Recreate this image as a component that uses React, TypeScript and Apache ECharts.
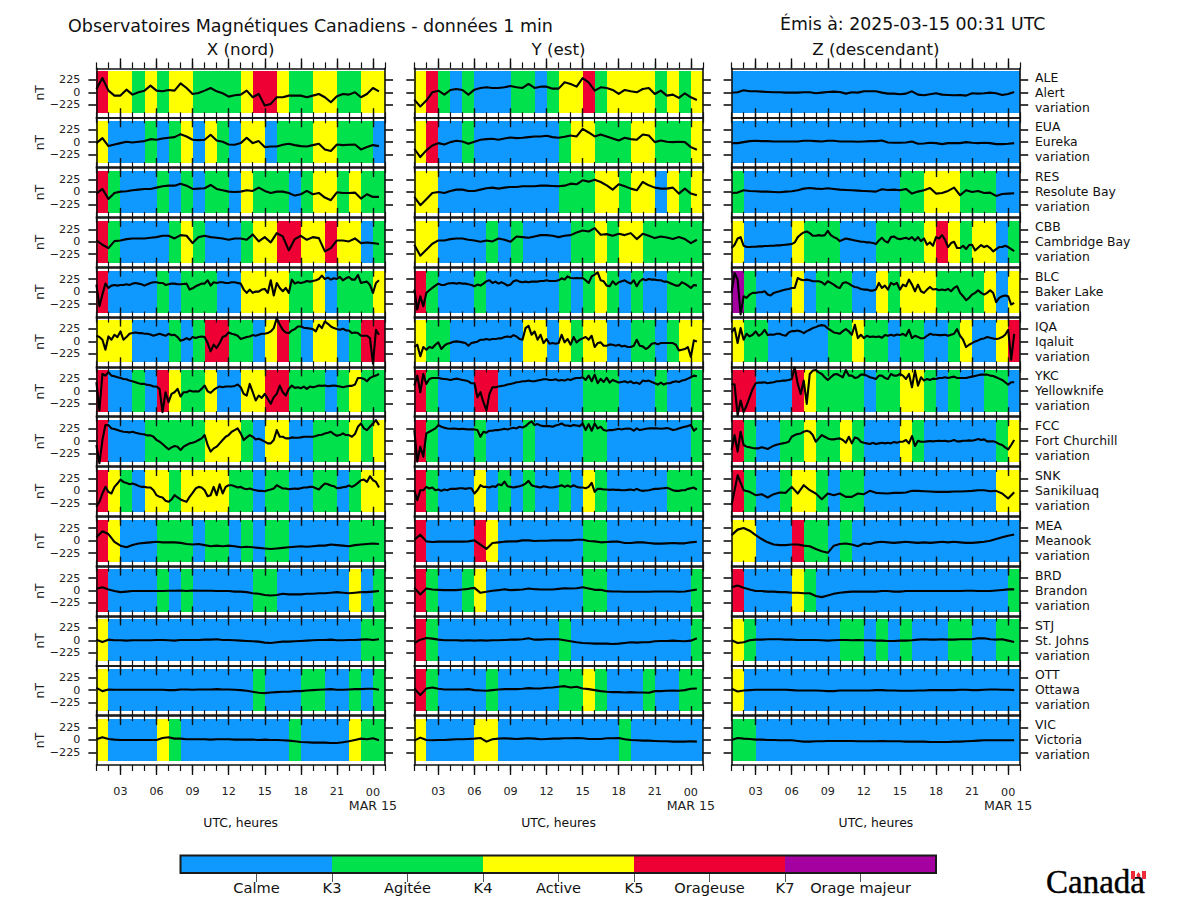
import React, { useEffect, useRef } from "react";
import * as echarts from "echarts";

const FONT = "'DejaVu Sans'";
const STATIONS = [
  ["ALE", "Alert"], ["EUA", "Eureka"], ["RES", "Resolute Bay"], ["CBB", "Cambridge Bay"], ["BLC", "Baker Lake"],
  ["IQA", "Iqaluit"], ["YKC", "Yellowknife"], ["FCC", "Fort Churchill"], ["SNK", "Sanikiluaq"], ["MEA", "Meanook"],
  ["BRD", "Brandon"], ["STJ", "St. Johns"], ["OTT", "Ottawa"], ["VIC", "Victoria"],
];
const COMPONENTS = ["X (nord)", "Y (est)", "Z (descendant)"];
const Y_TICKS = [-225, 0, 225];
const MAJOR_HOURS = [3, 6, 9, 12, 15, 18, 21, 24];
const MINOR_HOURS = [1, 2, 3, 4, 5, 6, 7, 8, 9, 10, 11, 12, 13, 14, 15, 16, 17, 18, 19, 20, 21, 22, 23, 24, 25];
const LEVEL_CODES = "BGYRP";
const LEVEL_COLORS = ["#0f99ff", "#00e14b", "#ffff00", "#ee0034", "#a500a0"];
const LEGEND_LABELS = ["Calme", "K3", "Agitée", "K4", "Active", "K5", "Orageuse", "K7", "Orage majeur"];

// Hourly activity level, first hour = 01:00 UTC
const K_X = [
  "RYYGYGYYGGGGYRRYGGYYGGYY", "YBBBGBGYBYGBYYBGGGYYGGGB", "RGBBBGBGBGGBYGGGBGYYGYGG", "RGBBBBGYGBBBGYYRRYYRYYBG",
  "RBBBBGBGGGBBYYYYGGYBGGGY", "YYYBBBGBGRRGGBYRGBYYBGRR", "RBBGBRYGGYBBYYRRGGGBGYGG", "RBBBGGGGGYYYGBYYBBGGGYGY",
  "RYGBYYGYYYYGGBGGBBGGBGYY", "RYBBBGGGBGGBGBGGBBBBBGGG", "RBBBBGBGBBBBBGGBBBBBBYBG", "YBBBBBBBBBBBBBBBBBBBBBGG",
  "YBBBBBBBBBBBBGBBBGGBBGBG", "YBBBBYGBBBBBBBBBGBBBBYGG",
];
const K_Y = [
  "YRGBGBBBGGBGYYRGYYYYGYGY", "YRBBGBBBBBBBGYYGGGYYGGGY", "YYBBBBBBBBBBGGGYYGYYBYGY", "YYBBBBGBGBBBBGGYGYYGGGGG",
  "RGBBBGBBBBBBGBGYGBGBBGGG", "YGGBBBBBBYYBYGYYBBGGBGYY", "RGBBBRRBBBBBBBGGGBBBGBBG", "RGBBBGBBBGBBBBGGBBBBBBBG",
  "RGBBBYBGBGBBGBYGBBBBBGGG", "RBBBBRYBBBBBBBGGBBBBBBBB", "RGBBGYBBBBBBBBGGBBBBBBBG", "RGBBBBBBBBBBGBBBBBBBBBBG",
  "RGBBBBGBBBBBGGYGBBBGBBGG", "YBBBBYYBBBBBBBBBBGBBBBBB",
];
const K_Z = [
  "BBBBBBBBBBBBBBBBBBBBBBBB", "BBBBBBBBBBBBBBBBBBBBBBBB", "GBBBBBBBBBBBBBGGYYYGGGBB", "YBBBBYGGGBBBGGGGYRYGYYBG",
  "PGBBBYBGGGBBYGYYYGGGGYBY", "YGGBBBBBGGYGGBGGBBGYBBYR", "RRBBBRYGGGGBGGYYGBGBBGGB", "RGBBGGYGGYGBBBYGBBBBBBGY",
  "RGBBGYYGBGGBBBBBBBBBBBYY", "YYBBBRGGBGBBBBBBBBBBBBBB", "RBBBBYGBBBBBBBBBBBBBBBBG", "YGBBBBBBBGGBGBGBBBGGBBGG",
  "YBBBBBBBBBBBBBBBBBBBBBBB", "GGBBBBBBBBBBBBBBBBBBBBBB",
];

// Variation in nT, X component
const X_ALE = [60,258,30,-60,-60,48,-42,0,30,120,30,18,42,30,162,78,-30,-12,30,78,18,-18,-78,-54,-42,30,-90,-30,-240,-210,-90,-90,-60,-60,-60,-90,-60,-30,-90,-180,-72,-30,-42,0,-90,-30,78,18];
const X_EUA = [-18,72,-72,-42,-18,6,-6,6,18,54,42,66,78,90,144,102,42,36,42,132,30,6,-42,-48,-18,78,-18,18,-90,-78,-78,-48,-30,-54,-72,-78,-54,-30,-132,-162,-42,-54,-48,-42,-132,-90,-54,-72];
const X_RES = [-30,54,-126,-18,6,12,30,42,54,54,78,102,114,114,150,114,54,60,66,126,54,30,6,0,6,30,18,78,18,-18,6,6,-18,-66,-42,18,-42,-18,-102,-150,-6,-18,-18,-12,-120,-42,-90,-90];
const X_CBB = [24,-54,-114,12,24,48,60,60,60,72,84,108,108,60,120,108,-24,84,108,84,72,60,36,60,60,36,132,6,84,-12,156,96,-156,48,108,36,84,66,-174,-114,24,24,6,60,-24,-12,-24,-42];
const X_BLC = [126,-264,-54,144,66,108,120,108,120,120,132,120,144,156,144,132,108,132,156,168,168,156,156,120,132,144,144,132,132,138,144,36,60,96,120,144,144,204,108,168,156,168,168,156,156,168,168,156,144,36,-24,36,-24,0,0,36,48,-24,204,-72,156,66,6,66,-24,216,144,168,156,168,192,180,192,204,228,288,228,252,216,240,228,264,204,240,264,216,216,300,156,168,180,120,-24,156,204];
const X_IQA = [102,78,30,-150,90,30,120,78,180,30,78,138,150,162,150,150,138,138,126,102,120,138,120,102,138,114,120,78,12,30,60,30,78,60,78,90,78,-30,-180,-60,-120,-30,78,102,162,138,126,102,42,60,78,90,114,102,120,138,138,150,180,240,420,300,210,162,150,198,222,270,270,246,240,234,222,180,300,240,360,318,270,240,222,210,228,198,198,150,162,150,102,102,102,60,-402,210,120];
const X_YKC = [162,-348,312,282,342,282,270,252,240,222,216,192,180,162,144,132,132,114,108,84,84,42,-378,-18,-198,-48,-18,42,-96,-18,-18,12,-6,0,-6,42,102,0,-30,24,60,84,72,84,84,84,96,120,72,-48,-78,132,-18,-168,-78,-120,-48,-138,-228,-108,-48,102,-18,-78,42,102,60,72,54,84,42,84,72,84,102,96,102,90,96,102,96,84,72,84,96,96,120,240,240,222,180,240,264,282,312];
const X_FCC = [-72,-402,18,288,288,228,216,198,180,168,162,156,168,150,138,126,120,102,102,78,18,-12,-54,-102,-150,-114,-90,-102,-162,-102,-72,-42,-30,-12,18,48,108,-72,-192,-132,-102,-42,18,78,108,168,198,228,138,18,66,108,78,30,42,18,-12,-42,-42,18,198,78,78,48,48,66,60,60,66,78,78,78,78,90,108,114,138,150,168,126,96,108,138,108,108,78,126,258,318,228,198,258,318,378,288];
const X_SNK = [-288,-198,-48,72,-18,-48,72,132,204,162,144,120,132,114,90,72,72,60,60,12,-78,-108,-120,-180,-198,-156,-78,-120,-156,-180,-198,-108,-36,42,72,60,12,-96,-78,72,-78,120,-48,72,102,102,84,60,72,42,30,42,24,12,0,0,-6,12,24,42,102,72,42,42,30,36,42,36,48,60,60,72,72,48,24,84,132,120,96,84,48,54,66,72,96,72,102,144,192,204,162,264,192,162,60];
const X_MEA = [60,170,120,-20,-90,-120,-80,-50,-40,-30,-20,-30,-30,-30,-40,-60,-70,-60,-80,-100,-90,-100,-90,-100,-120,-110,-120,-130,-140,-150,-140,-130,-120,-110,-100,-110,-100,-90,-90,-70,-80,-90,-100,-80,-70,-60,-50,-60];
const X_BRD = [30,60,20,-10,-30,-20,-10,-10,-10,-10,-10,-10,-5,-5,0,-10,0,-5,-5,-5,-10,-10,-10,-20,-20,-30,-50,-60,-80,-90,-80,-60,-70,-70,-70,-60,-60,-50,-50,-40,-30,-40,-50,-40,-30,-30,-20,-10];
const X_STJ = [12,-30,12,0,0,-6,0,0,0,0,6,6,0,-6,6,6,6,6,12,12,18,6,6,0,-6,-12,-18,-24,-42,-48,-36,-24,-24,-18,-12,-6,0,6,6,12,0,0,6,6,12,18,6,18];
const X_OTT = [42,-18,12,6,6,6,6,6,6,6,6,6,0,0,12,12,6,12,12,12,18,12,12,6,0,-12,-30,-48,-54,-42,-36,-30,-30,-18,-18,-6,0,6,12,18,6,6,12,18,18,24,24,6];
const X_VIC = [12,48,18,6,0,0,0,0,0,0,0,36,48,24,24,12,12,12,12,6,12,12,12,6,6,6,6,0,6,0,0,-6,-12,-24,-36,-42,-48,-48,-48,-54,-54,-42,-24,0,24,12,30,-6];

// Variation in nT, Y component
const Y_ALE = [-132,-258,-150,0,30,-42,42,60,42,-42,48,78,90,78,78,90,114,90,78,150,78,102,102,66,66,180,150,102,258,180,30,90,78,42,-30,42,18,0,60,78,-30,30,-60,-42,-102,-18,-90,-138];
const Y_EUA = [-120,-270,-150,-60,-18,-42,0,24,12,-30,6,42,54,60,42,66,84,72,78,90,102,102,114,90,78,96,120,102,240,174,102,138,102,66,30,78,54,42,138,120,0,30,6,0,6,0,-90,-138];
const Y_RES = [-90,-240,-132,-18,0,-18,18,42,42,18,18,42,66,78,60,78,90,90,102,102,102,114,114,108,102,114,150,138,210,186,222,180,120,42,138,102,60,30,180,120,78,60,60,78,-30,60,-30,-60];
const Y_CBB = [-54,-252,-144,-36,24,24,48,60,60,36,24,0,24,6,60,36,0,96,84,72,96,120,120,108,84,108,120,168,204,186,246,126,138,108,144,120,156,48,144,108,66,96,78,48,84,48,-24,36];
const Y_BLC = [36,-324,-84,-264,-24,24,66,108,144,120,120,144,150,156,144,156,144,144,132,120,96,126,108,144,186,204,156,180,144,168,144,108,126,186,204,180,168,180,168,180,180,180,192,192,204,192,192,192,204,240,216,276,246,240,246,240,246,204,156,276,306,348,204,186,108,96,186,126,168,186,204,168,144,204,96,186,228,204,228,216,216,204,204,180,180,156,132,108,108,168,144,108,66,120,108];
const Y_IQA = [-102,-60,-270,-102,-150,-102,-120,-60,-18,-138,-78,-42,-30,-6,0,-6,-18,-30,-78,-30,-18,-6,30,30,42,30,42,42,54,54,78,90,78,114,90,42,30,240,282,120,180,30,120,-30,42,-42,-30,-42,-30,120,-18,42,-60,78,-18,30,54,78,30,102,-102,-30,-18,-78,-78,-54,-60,-78,-60,-90,-78,-102,-102,-78,30,-78,-90,-138,-102,-42,-30,-54,-30,-30,-30,-30,-30,-60,-162,-150,-138,-102,-282,18,0];
const Y_YKC = [102,282,-18,312,132,222,240,240,240,228,222,216,204,216,228,216,204,192,180,144,144,-108,-18,-198,-348,-48,72,72,84,96,102,120,132,144,162,168,180,180,192,180,180,192,204,216,216,204,204,216,192,204,192,216,204,228,240,240,252,204,282,180,300,144,222,168,240,156,204,180,156,168,180,156,180,144,156,132,192,180,192,168,144,120,156,120,144,144,168,180,168,192,204,228,252,282,270];
const Y_FCC = [198,-372,-102,-282,138,168,198,228,288,258,240,228,222,228,222,216,222,216,210,210,210,198,78,168,150,186,186,198,198,210,222,210,228,240,228,258,246,270,318,354,288,306,282,270,270,270,258,282,294,318,282,282,270,288,282,270,318,198,306,186,318,228,258,198,186,198,198,210,222,210,222,228,222,186,228,198,210,222,228,228,228,228,222,228,234,222,198,210,228,246,258,270,288,186,234];
const Y_SNK = [12,-168,12,12,72,42,60,12,24,0,24,12,36,36,36,48,48,36,48,48,-48,12,102,72,72,60,84,72,120,102,168,84,72,60,72,84,102,132,180,102,84,72,60,84,72,60,60,72,84,102,72,96,72,102,72,60,60,48,72,144,-18,36,36,24,24,18,24,18,18,12,12,18,24,12,36,12,0,6,12,24,36,36,42,48,54,36,12,0,0,12,12,36,48,60,24];
const Y_MEA = [18,108,-12,-24,-18,-18,-18,-18,-18,-12,6,-72,-150,-42,-30,-18,-12,-12,6,6,-6,0,0,6,6,6,6,18,18,-6,-12,-30,-24,-18,-18,-42,-42,-30,-30,-42,-54,-54,-48,-42,-48,-48,-30,-18];
const Y_BRD = [48,-72,36,18,12,6,6,6,18,30,48,-42,-24,-6,6,24,6,12,18,36,24,18,18,18,30,42,36,42,60,36,12,12,-12,-18,-18,-24,-24,-24,-24,-24,-18,-18,-18,-18,-24,-18,0,18];
const Y_STJ = [-48,12,42,30,12,0,0,0,-6,0,-6,0,-6,0,0,6,12,12,18,36,12,12,18,18,18,0,-18,-36,-48,-54,-60,-60,-60,-66,-60,-48,-36,-42,-36,-36,-18,-12,-12,-6,-12,-18,-6,36];
const Y_OTT = [30,-90,30,48,24,12,12,12,12,18,0,-6,-12,0,12,18,18,18,24,36,30,30,42,48,60,72,48,60,30,18,0,-18,-30,-36,-36,-42,-36,-42,-42,-48,-18,-18,-12,-6,-12,0,24,30];
const Y_VIC = [-12,42,0,-6,0,0,6,12,12,18,24,36,-30,12,24,30,24,18,24,30,24,12,18,24,24,30,30,36,30,18,18,18,30,30,36,12,0,-6,-12,-12,-18,-24,-24,-30,-30,-30,-24,-30];

// Variation in nT, Z component
const Z_ALE = [-6,0,36,18,18,12,6,0,0,-6,-6,-6,0,0,-18,-6,6,12,6,-24,0,-6,18,18,18,-6,-24,-24,-36,-24,18,-42,-54,-36,-18,-42,-48,-54,-48,-60,-18,-24,-18,-6,-18,-48,-30,6];
const Z_EUA = [-18,-18,0,18,24,18,18,12,12,12,12,12,24,24,18,12,24,24,12,12,12,6,12,18,18,30,-6,-12,-12,-6,12,-30,-24,-12,-18,-36,-18,-18,-18,0,-12,-18,-12,-18,-36,-36,-30,-18];
const Z_RES = [-18,-12,30,18,12,6,6,0,-6,6,12,30,60,72,60,54,66,54,42,36,30,24,18,12,6,48,36,42,30,54,-30,6,30,72,-30,-18,18,78,-60,30,0,18,-18,-12,-72,-36,-30,-24];
const Z_CBB = [-114,-54,60,84,-72,-96,-96,-90,-90,-84,-84,-78,-78,-72,-72,-66,-66,-60,-54,-48,-42,-12,84,132,168,186,156,108,108,120,108,120,198,120,84,60,12,36,60,48,36,24,12,0,0,-12,-12,-24,-42,24,72,12,-12,84,96,60,48,60,72,48,84,24,84,12,60,-54,-12,-72,84,60,120,36,-96,-24,0,-114,-114,-72,-132,-60,-54,-156,-108,-60,-96,-72,-114,-174,-132,-96,-96,-72,-96,-132,-168];
const Z_BLC = [-24,336,216,-414,-84,-114,-54,-24,-24,-12,-12,6,-54,-72,-24,-6,6,24,36,48,66,66,246,216,204,216,204,186,186,186,168,126,186,156,126,84,66,156,168,144,108,84,72,48,36,36,18,18,36,156,66,108,36,156,126,156,36,126,96,216,126,6,126,6,-24,36,84,36,48,24,36,24,48,6,66,96,-24,-84,-156,-114,-54,-24,24,-24,-54,-24,24,-24,-192,-114,-84,-72,-84,-234,-204];
const Z_IQA = [162,240,-30,240,30,138,90,120,180,102,138,210,114,126,120,138,138,114,102,162,186,186,198,180,150,186,210,240,258,282,294,282,234,198,162,150,138,186,222,180,120,300,60,120,60,102,78,90,78,90,66,114,102,120,102,126,114,138,102,210,60,102,78,54,60,102,138,120,120,114,114,120,102,120,138,222,102,30,-102,-60,-30,0,18,42,54,78,66,54,42,54,78,120,210,-330,138];
const Z_YKC = [132,120,-438,-168,-378,-258,-108,42,144,156,156,162,144,156,162,180,180,192,192,204,222,432,132,-48,192,-228,312,372,384,342,312,252,204,252,300,312,282,252,384,282,282,240,252,300,300,282,252,240,222,282,282,240,222,312,282,282,312,282,222,312,72,372,102,252,192,222,204,228,222,240,240,252,240,252,264,240,240,240,240,252,264,276,288,300,300,300,282,276,252,228,204,162,120,162,162];
const Z_FCC = [-162,108,-192,168,-72,-102,-114,-126,-132,-132,-114,-126,-144,-114,-84,-66,-54,-42,-30,-12,78,108,126,138,168,186,168,108,-12,48,108,78,48,30,30,42,48,18,-30,78,-42,66,48,-12,-30,-42,-54,-30,-54,-42,-30,-42,-30,-42,-18,-30,-12,-12,18,-42,90,-90,6,-12,-12,-6,0,-6,0,6,0,6,-6,0,18,-6,-6,6,6,12,6,18,36,18,30,-6,-6,-6,-24,-54,-72,-114,-150,-72,18];
const Z_SNK = [-258,282,12,-18,-78,-60,-120,-60,-30,-36,72,-48,102,12,-48,-150,-48,-78,-48,-108,-108,-48,-60,0,-36,-42,-48,-36,-36,-30,0,0,-6,-12,-18,-18,-18,-12,-12,-6,0,12,12,-6,0,-48,-138,-24];
const Z_MEA = [100,200,230,180,100,30,-30,-70,-80,-80,-70,-70,-90,-100,-150,-190,-220,-90,-60,-50,-70,-100,-50,-60,-30,-20,-30,-40,-30,-20,-30,-40,-30,-40,-30,-20,-30,-20,-30,-40,-40,-30,-20,0,30,60,90,110];
const Z_BRD = [60,90,50,20,-10,-10,-20,-20,-30,-30,-40,-40,-50,-50,-100,-120,-90,-60,-40,-30,-20,-20,-20,-20,-20,-10,-10,-20,-20,-10,-10,-10,-10,-10,-10,-10,-10,-10,-10,-5,-5,-10,-10,-10,0,10,20,20];
const Z_STJ = [0,-48,-36,0,12,12,18,18,18,12,12,6,6,6,6,0,-6,0,6,6,0,6,0,0,-6,-6,-12,-12,-6,-6,0,12,18,12,12,18,12,12,18,18,18,36,36,18,12,18,-6,-30];
const Z_OTT = [24,-24,-6,0,6,6,6,6,6,6,0,-6,-6,-6,-6,-12,-18,-18,-6,-6,-6,-6,-6,-6,0,0,-6,-6,-12,-12,-12,-6,-6,0,0,0,0,0,6,6,0,0,6,12,12,6,6,0];
const Z_VIC = [0,36,24,18,6,6,0,0,-6,-6,-6,-18,-30,-30,-24,-24,-18,-18,-18,-18,-18,-24,-24,-24,-24,-18,-24,-24,-24,-30,-30,-30,-30,-36,-36,-36,-36,-30,-30,-24,-18,-12,-6,-6,-6,-6,-6,-6];

const LINES = [
  [X_ALE, X_EUA, X_RES, X_CBB, X_BLC, X_IQA, X_YKC, X_FCC, X_SNK, X_MEA, X_BRD, X_STJ, X_OTT, X_VIC],
  [Y_ALE, Y_EUA, Y_RES, Y_CBB, Y_BLC, Y_IQA, Y_YKC, Y_FCC, Y_SNK, Y_MEA, Y_BRD, Y_STJ, Y_OTT, Y_VIC],
  [Z_ALE, Z_EUA, Z_RES, Z_CBB, Z_BLC, Z_IQA, Z_YKC, Z_FCC, Z_SNK, Z_MEA, Z_BRD, Z_STJ, Z_OTT, Z_VIC],
];
const LEVELS = [K_X, K_Y, K_Z];

const COL_LEFT = [96.4, 414.3, 731.6];
const PANEL_W = 288.6;
const ROW_TOP = 68.4;
const ROW_STEP = 49.82;
const PANEL_H = 48.9;

function runs(code: string) {
  const out: number[][] = [];
  for (let i = 0; i < code.length; i++) {
    const k = LEVEL_CODES.indexOf(code[i]);
    const last = out[out.length - 1];
    if (last && last[2] === k) last[1] = i + 2;
    else out.push([i + 1, i + 2, k]);
  }
  return out;
}

function bandRender(top: number, bottom: number) {
  return (_: any, api: any) => {
    const a = api.coord([api.value(0), top]);
    const b = api.coord([api.value(1), bottom]);
    const x0 = Math.round(a[0]);
    const x1 = Math.round(b[0]);
    return {
      type: "rect",
      shape: { x: x0, y: Math.round(a[1]), width: x1 - x0, height: Math.round(b[1]) - Math.round(a[1]) },
      style: { fill: LEVEL_COLORS[api.value(2)] },
      silent: true,
    };
  };
}

function buildOption() {
  const grid: any[] = [];
  const xAxis: any[] = [];
  const yAxis: any[] = [];
  const series: any[] = [];
  const graphic: any[] = [];
  const spine = { show: true, onZero: false, lineStyle: { color: "#111", width: 1.6 } };
  const txt = (text: string, x: number, y: number, size: number, align = "left", extra: any = {}) => ({
    type: "text", x, y, silent: true, z: 20,
    style: { text, fill: "#111", font: `${size}px ${FONT}`, textAlign: align, textVerticalAlign: "middle", ...extra },
  });

  COMPONENTS.forEach((name, c) => {
    STATIONS.forEach((_st, r) => {
      const g = grid.length;
      grid.push({ left: COL_LEFT[c], top: ROW_TOP + r * ROW_STEP, width: PANEL_W, height: PANEL_H });
      const xBase = xAxis.length;
      const last = r === STATIONS.length - 1;
      (["bottom", "top"] as const).forEach((position) => {
        xAxis.push({
          type: "value", gridIndex: g, position, min: 1, max: 25, z: 5,
          splitLine: { show: false }, axisLine: spine,
          axisTick: { show: true, length: 10, customValues: MAJOR_HOURS, lineStyle: { color: "#111", width: 1.4 } },
          axisLabel: position === "bottom" && last
            ? {
                show: true, customValues: MAJOR_HOURS, margin: 21, color: "#222", fontSize: 11.2, fontFamily: FONT,
                rich: { h: { fontSize: 11.2, fontFamily: FONT, color: "#222", lineHeight: 13 }, d: { fontSize: 12.6, fontFamily: FONT, color: "#222", lineHeight: 13 } },
                formatter: (v: number) => (v === 24 ? "{h|00}\n{d|MAR 15}" : String(v).padStart(2, "0")),
              }
            : { show: false },
        });
        xAxis.push({
          type: "value", gridIndex: g, position, min: 1, max: 25, z: 5,
          splitLine: { show: false }, axisLine: { show: false, onZero: false }, axisLabel: { show: false },
          axisTick: { show: true, length: 6, customValues: MINOR_HOURS, lineStyle: { color: "#111", width: 1.2 } },
        });
      });
      const yBase = yAxis.length;
      (["left", "right"] as const).forEach((position) => {
        const labelled = position === "left" && c === 0;
        yAxis.push({
          type: "value", gridIndex: g, position, min: -452, max: 432, z: 5,
          splitLine: { show: false }, axisLine: spine,
          axisTick: { show: true, length: 8, customValues: Y_TICKS, lineStyle: { color: "#111", width: 1.6 } },
          axisLabel: labelled
            ? { show: true, customValues: Y_TICKS, margin: 16, color: "#222", fontSize: 11.2, fontFamily: FONT,
                formatter: (v: number) => (v < 0 ? "\u2212" + Math.abs(v) : String(v)) }
            : { show: false },
          ...(labelled
            ? { name: "nT", nameLocation: "middle", nameRotate: 90, nameGap: 51, nameTextStyle: { color: "#222", fontSize: 12.4, fontFamily: FONT } }
            : {}),
        });
      });
      series.push({
        type: "custom", xAxisIndex: xBase, yAxisIndex: yBase, z: 1, silent: true, clip: false,
        encode: { x: [0, 1] }, data: runs(LEVELS[c][r]), renderItem: bandRender(380, -380),
      });
      const vals = LINES[c][r];
      series.push({
        type: "line", xAxisIndex: xBase, yAxisIndex: yBase, z: 8, silent: true, showSymbol: false, clip: true,
        lineStyle: { color: "#000", width: 2.1, join: "round" },
        data: vals.map((v, i) => [1 + (i * 23.5) / (vals.length - 1), v]),
      });
    });
    const center = COL_LEFT[c] + PANEL_W / 2;
    graphic.push(txt(name, center, 49, 16.7, "center"));
    graphic.push(txt("UTC, heures", center, 822, 12.4, "center"));
  });

  STATIONS.forEach((st, r) => {
    const y = 92 + r * ROW_STEP;
    graphic.push(txt(st[0], 1035, y - 15, 12.4));
    graphic.push(txt(st[1], 1035, y, 12.4));
    graphic.push(txt("variation", 1035, y + 15, 12.4));
  });

  graphic.push(txt("Observatoires Magnétiques Canadiens - données 1 min", 68, 26, 17.5));
  graphic.push(txt("Émis à: 2025-03-15 00:31 UTC", 780, 24, 17.35));

  // colour scale
  const gl = grid.length;
  grid.push({ left: 181, top: 856, width: 755, height: 17 });
  xAxis.push({
    type: "value", gridIndex: gl, min: 0, max: 10, z: 5, splitLine: { show: false },
    axisLine: { show: false, onZero: false },
    axisTick: { show: true, length: 9, customValues: [1, 2, 3, 4, 5, 6, 7, 8, 9], lineStyle: { color: "#555", width: 1 } },
    axisLabel: {
      show: true, customValues: [1, 2, 3, 4, 5, 6, 7, 8, 9], margin: 7, color: "#111", fontSize: 14.6, fontFamily: FONT,
      formatter: (v: number) => LEGEND_LABELS[v - 1],
    },
  });
  yAxis.push({ type: "value", gridIndex: gl, min: 0, max: 1, show: false });
  series.push({
    type: "custom", xAxisIndex: xAxis.length - 1, yAxisIndex: yAxis.length - 1, z: 1, silent: true, clip: false,
    encode: { x: [0, 1] },
    data: LEVEL_COLORS.map((_, i) => [i * 2, i * 2 + 2, i]),
    renderItem: bandRender(1, 0),
  });
  graphic.push({
    type: "rect", silent: true, z: 10, shape: { x: 180.5, y: 855.5, width: 755.5, height: 17.5 },
    style: { fill: "none", stroke: "#1a1a1a", lineWidth: 2 },
  });

  // wordmark
  graphic.push({
    type: "text", x: 1046, y: 881.5, silent: true, z: 20,
    style: { text: "Canada", fill: "#000", stroke: "#000", lineWidth: 0.4, font: `33px 'Liberation Serif'`, textAlign: "left", textVerticalAlign: "middle" },
  });
  graphic.push({ type: "rect", silent: true, z: 19, shape: { x: 1131, y: 871, width: 15, height: 8 }, style: { fill: "#fff" } });
  graphic.push({ type: "rect", silent: true, z: 22, shape: { x: 1131, y: 871, width: 4, height: 8 }, style: { fill: "#ee2b3b" } });
  graphic.push({ type: "rect", silent: true, z: 22, shape: { x: 1142, y: 871, width: 4, height: 8 }, style: { fill: "#ee2b3b" } });
  graphic.push({ type: "polygon", silent: true, z: 22, shape: { points: [[1138.5, 872], [1140.5, 875], [1140, 877], [1137, 877], [1136.5, 875]] }, style: { fill: "#ee2b3b" } });

  return { animation: false, backgroundColor: "#fff", grid, xAxis, yAxis, series, graphic };
}

export default function App() {
  const ref = useRef<HTMLDivElement>(null);
  useEffect(() => {
    const chart = echarts.init(ref.current!, undefined, { renderer: "svg" });
    chart.setOption(buildOption() as any);
    return () => chart.dispose();
  }, []);
  return <div ref={ref} style={{ position: "absolute", left: 0, top: 0, width: 1200, height: 900 }} />;
}
